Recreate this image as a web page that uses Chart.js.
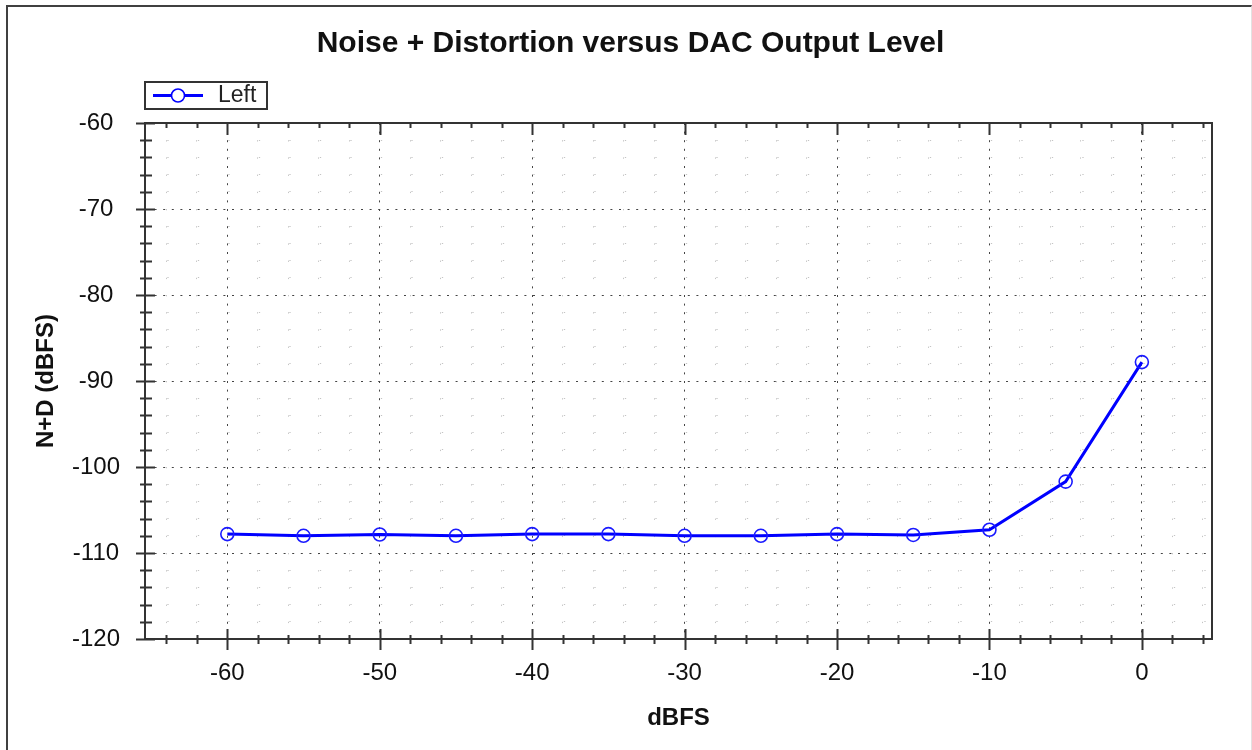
<!DOCTYPE html>
<html>
<head>
<meta charset="utf-8">
<title>Noise + Distortion versus DAC Output Level</title>
<script src="https://cdn.jsdelivr.net/npm/chart.js@4.4.0/dist/chart.umd.min.js"></script>
<style>
  html, body { margin: 0; padding: 0; background: #fff; overflow: hidden; }
  #wrap { position: absolute; left: 0; top: 0; width: 1252px; height: 750px; }
  #frame { position: absolute; left: 6px; top: 5px; width: 1243px; height: 760px;
           border-left: 2px solid #404040; border-top: 2px solid #404040; border-right: 1px solid #e2e2e2;
           pointer-events: none; }
</style>
</head>
<body>
<div id="wrap"><canvas id="mycanvas" width="1252" height="750"></canvas></div>
<div id="frame"></div>
<script>
// data
var levels = [-60, -55, -50, -45, -40, -35, -30, -25, -20, -15, -10, -5, 0];
var leftNoise = [-107.8, -108.0, -107.85, -108.0, -107.8, -107.8, -108.0, -108.0, -107.8, -107.9, -107.3, -101.7, -87.8];

// axis ticks
var xTicks = [-64, -62, -60, -58, -56, -54, -52, -50, -48, -46, -44, -42, -40, -38, -36, -34, -32, -30,
              -28, -26, -24, -22, -20, -18, -16, -14, -12, -10, -8, -6, -4, -2, 0, 2, 4];
var xMajor = [-60, -50, -40, -30, -20, -10, 0];
var yTicks = [-120, -118, -116, -114, -112, -110, -108, -106, -104, -102, -100, -98, -96, -94, -92, -90,
              -88, -86, -84, -82, -80, -78, -76, -74, -72, -70, -68, -66, -64, -62, -60];
var yMajor = [-120, -110, -100, -90, -80, -70, -60];

var FONT = "'Liberation Sans', Arial, sans-serif";

function isMajor(list, ctx) {
	return ctx.tick && list.indexOf(ctx.tick.value) >= 0;
}

// frame, crossing tick marks and the boxed legend
var axisMarks = {
	id: 'axisMarks',
	afterDraw: function(chart) {
		var c = chart.ctx, a = chart.chartArea;
		var xs = chart.scales.x, ys = chart.scales.y;
		c.save();
		c.strokeStyle = '#333';
		c.lineWidth = 2;
		c.strokeRect(a.left, a.top, a.right - a.left, a.bottom - a.top);
		c.beginPath();
		xTicks.forEach(function(v) {
			var px = Math.round(xs.getPixelForValue(v)) + 0.5;
			var big = xMajor.indexOf(v) >= 0;
			c.moveTo(px, a.bottom - (big ? 10 : 4));
			c.lineTo(px, a.bottom + (big ? 11 : 5));
			c.moveTo(px, a.top);
			c.lineTo(px, a.top + (big ? 12 : 5));
		});
		yTicks.forEach(function(v) {
			var py = Math.round(ys.getPixelForValue(v)) + 0.5;
			var big = yMajor.indexOf(v) >= 0;
			c.moveTo(a.left - (big ? 9 : 5), py);
			c.lineTo(a.left + (big ? 10 : 7), py);
		});
		c.stroke();

		// legend
		var ds = chart.data.datasets[0];
		var lx = a.left, ly = a.top - 41;
		c.lineWidth = 2;
		c.strokeStyle = '#333';
		c.strokeRect(lx, ly, 122, 27);
		c.strokeStyle = ds.borderColor;
		c.lineWidth = 3;
		c.beginPath();
		c.moveTo(lx + 8, ly + 13.5);
		c.lineTo(lx + 58, ly + 13.5);
		c.stroke();
		c.lineWidth = 1.6;
		c.fillStyle = '#fff';
		c.beginPath();
		c.arc(lx + 33, ly + 13.5, 6.5, 0, Math.PI * 2);
		c.fill();
		c.stroke();
		c.fillStyle = '#222';
		c.font = '23px ' + FONT;
		c.textBaseline = 'middle';
		c.textAlign = 'left';
		c.fillText(ds.label, lx + 73, ly + 14);
		c.restore();
	}
};

var chartdata = {
	datasets: [
		{
			label: 'Left',
			data: levels.map(function(x, i) { return { x: x, y: leftNoise[i] }; }),
			borderColor: '#0000ff',
			borderWidth: 3,
			pointRadius: 6.5,
			pointBorderWidth: 1.6,
			pointBorderColor: '#1a1aff',
			pointBackgroundColor: 'rgba(0,0,0,0)',
			tension: 0
		}
	]
};

var ctx = document.getElementById('mycanvas');

var lineGraph = new Chart(ctx, {
	type: 'line',
	data: chartdata,
	plugins: [axisMarks],
	options: {
		responsive: false,
		animation: false,
		devicePixelRatio: 1,
		layout: { padding: { left: 49, right: 40, top: 0, bottom: 0 } },
		plugins: {
			legend: { display: false },
			tooltip: { enabled: false },
			title: {
				display: true,
				text: 'Noise + Distortion versus DAC Output Level',
				color: '#111',
				font: { family: FONT, size: 30, weight: 'bold' },
				padding: { top: 26, bottom: 61 }
			}
		},
		scales: {
			x: {
				type: 'linear',
				min: -65.4,
				max: 4.6,
				afterBuildTicks: function(scale) {
					scale.ticks = xTicks.map(function(v) { return { value: v }; });
				},
				afterFit: function(scale) { scale.height = 111; },
				ticks: {
					autoSkip: false,
					maxRotation: 0,
					padding: 20,
					color: '#111',
					font: { family: FONT, size: 24 },
					callback: function(value) { return xMajor.indexOf(value) >= 0 ? String(value) : ''; }
				},
				grid: {
					drawTicks: false,
					color: function(c) { return isMajor(xMajor, c) ? '#444' : '#c4c4c4'; },
					lineWidth: 1
				},
				border: {
					display: true,
					color: '#333',
					width: 2,
					dash: function(c) {
						if (!c.tick) return [];
						return isMajor(xMajor, c) ? [2, 6.6] : [1.3, 15.9];
					}
				},
				title: {
					display: true,
					text: 'dBFS',
					color: '#111',
					font: { family: FONT, size: 24, weight: 'bold' },
					padding: { top: 0, bottom: 17.6 }
				}
			},
			y: {
				min: -120,
				max: -60,
				afterBuildTicks: function(scale) {
					scale.ticks = yTicks.map(function(v) { return { value: v }; });
				},
				afterFit: function(scale) { scale.width = 96; },
				ticks: {
					autoSkip: false,
					crossAlign: 'center',
					padding: 25,
					color: '#111',
					font: { family: FONT, size: 24 },
					callback: function(value) { return yMajor.indexOf(value) >= 0 ? String(value) : ''; }
				},
				grid: {
					drawTicks: false,
					color: function(c) { return isMajor(yMajor, c) ? '#444' : '#c4c4c4'; },
					lineWidth: 1
				},
				border: {
					display: true,
					color: '#333',
					width: 2,
					dash: function(c) {
						if (!c.tick) return [];
						return isMajor(yMajor, c) ? [2, 6.6] : [1.3, 29.2];
					},
					dashOffset: function(c) {
						if (!c.tick || isMajor(yMajor, c)) return 0;
						var xs = c.chart.scales.x;
						var period = xs.getPixelForValue(2) - xs.getPixelForValue(0);
						return period - (xs.getPixelForValue(-64) - c.chart.chartArea.left);
					}
				},
				title: {
					display: true,
					text: 'N+D (dBFS)',
					color: '#111',
					font: { family: FONT, size: 24, weight: 'bold' },
					padding: { top: -17.4, bottom: 0 }
				}
			}
		}
	}
});
</script>
</body>
</html>
